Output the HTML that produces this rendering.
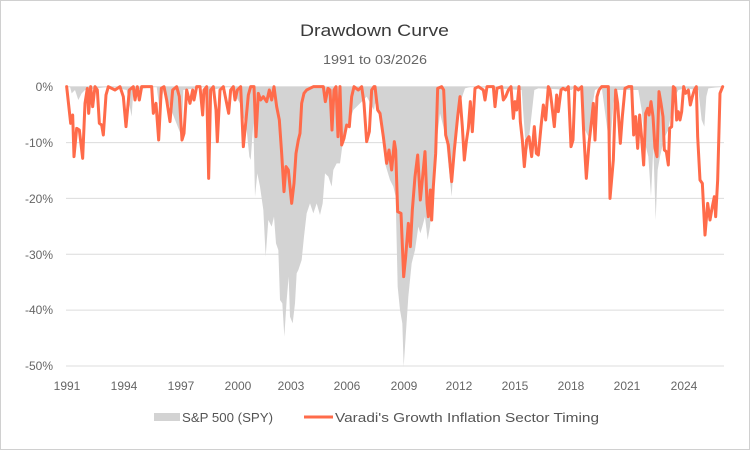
<!DOCTYPE html>
<html><head><meta charset="utf-8"><style>
html,body{margin:0;padding:0;background:#fff}
svg{display:block}
text{font-family:"Liberation Sans",sans-serif}
</style></head><body>
<svg width="750" height="450" viewBox="0 0 750 450" xmlns="http://www.w3.org/2000/svg">
<rect x="0.5" y="0.5" width="749" height="449" fill="#fff" stroke="#d0d0d0"/>
<text x="300" y="36" font-size="17" fill="#3a3a3a" textLength="149" lengthAdjust="spacingAndGlyphs">Drawdown Curve</text>
<text x="323" y="64" font-size="13" fill="#666" textLength="104" lengthAdjust="spacingAndGlyphs">1991 to 03/2026</text>
<g stroke="#dcdcdc" stroke-width="1">
<line x1="66" x2="724" y1="86.7" y2="86.7"/><line x1="66" x2="724" y1="142.6" y2="142.6"/><line x1="66" x2="724" y1="198.4" y2="198.4"/><line x1="66" x2="724" y1="254.3" y2="254.3"/><line x1="66" x2="724" y1="310.1" y2="310.1"/><line x1="66" x2="724" y1="366" y2="366"/>
</g>
<g font-size="12" fill="#666" text-anchor="end">
<text x="53" y="91">0%</text><text x="53" y="147">-10%</text><text x="53" y="203">-20%</text><text x="53" y="259">-30%</text><text x="53" y="314">-40%</text><text x="53" y="370">-50%</text>
</g>
<g font-size="12" fill="#666" text-anchor="middle">
<text x="67" y="390">1991</text><text x="124" y="390">1994</text><text x="181" y="390">1997</text><text x="238" y="390">2000</text><text x="291" y="390">2003</text><text x="347" y="390">2006</text><text x="404" y="390">2009</text><text x="459" y="390">2012</text><text x="515" y="390">2015</text><text x="571" y="390">2018</text><text x="627" y="390">2021</text><text x="684" y="390">2024</text>
</g>
<g transform="translate(0,70) scale(0.333333)">
<polygon fill="#d3d3d3" points="200,50 210,50 215,70 225,60 235,90 245,70 255,60 330,50 380,60 395,140 400,60 470,50 480,130 490,60 545,200 550,60 620,50 626,300 632,60 690,50 720,100 740,180 748,260 752,270 760,160 765,380 772,310 780,350 790,420 797,560 805,450 815,470 822,440 828,520 835,540 840,690 847,700 853,800 860,690 866,620 870,740 878,760 885,700 890,610 895,600 905,570 912,500 920,430 930,400 940,430 950,400 960,435 968,400 975,310 985,320 995,350 1000,300 1010,280 1020,280 1028,220 1040,180 1060,120 1080,100 1100,80 1122,120 1125,100 1135,110 1145,170 1155,280 1170,330 1180,350 1187,380 1193,650 1200,720 1207,760 1211,890 1217,800 1225,680 1235,580 1245,540 1255,470 1261,490 1267,470 1275,440 1283,510 1290,470 1297,390 1305,250 1313,190 1320,130 1330,170 1337,200 1345,280 1355,380 1363,250 1373,160 1383,90 1395,55 1415,50 1565,60 1575,200 1583,240 1593,150 1603,60 1615,55 1715,60 1725,50 1745,60 1755,180 1765,200 1775,120 1785,60 1805,50 1830,240 1840,100 1850,60 1915,60 1925,120 1935,220 1945,260 1953,380 1960,230 1967,450 1973,300 1980,260 1987,230 1995,200 2005,180 2015,120 2025,80 2035,60 2055,55 2095,60 2105,150 2113,170 2119,80 2125,55 2168,50 2168,50 200,50"/>
<polyline fill="none" stroke="#ff6b4a" stroke-width="9" stroke-linejoin="round" stroke-linecap="round" points="200,50 212,160 218,135 222,260 230,175 238,180 248,265 255,100 262,55 266,130 272,50 278,110 285,50 292,60 298,160 305,165 310,195 318,75 325,50 345,60 360,50 370,80 378,170 388,60 400,50 405,90 412,50 418,90 425,50 455,50 460,130 468,100 476,210 484,55 492,50 500,90 510,155 518,60 530,50 538,80 546,210 552,190 560,60 570,100 578,60 582,90 590,50 600,50 608,135 612,60 620,50 626,325 632,60 640,50 648,120 652,215 660,60 670,50 680,100 686,130 692,60 700,50 705,90 712,60 722,50 730,230 738,150 745,75 752,50 762,50 768,200 775,70 782,90 790,80 800,95 808,60 815,90 822,50 830,110 838,150 845,250 852,365 858,290 865,300 875,400 882,340 888,250 895,210 900,190 905,100 912,70 920,60 930,55 940,50 970,50 976,95 984,55 990,60 996,180 1002,60 1008,50 1014,200 1020,50 1025,225 1032,205 1040,165 1048,170 1055,80 1062,50 1075,60 1085,50 1092,100 1100,215 1108,185 1115,60 1122,50 1125,50 1133,120 1140,130 1150,200 1160,280 1167,240 1175,300 1183,215 1187,240 1193,425 1203,430 1211,620 1217,560 1225,460 1231,530 1237,420 1245,320 1253,255 1261,390 1267,330 1275,245 1281,400 1285,440 1291,360 1295,450 1300,350 1307,250 1313,55 1325,50 1331,60 1337,195 1345,225 1355,335 1363,240 1373,140 1380,80 1387,170 1393,270 1399,215 1405,175 1411,95 1417,185 1425,55 1435,50 1450,60 1455,90 1461,50 1480,50 1485,110 1491,55 1505,50 1510,90 1517,80 1525,60 1533,50 1540,145 1545,95 1550,120 1557,50 1561,155 1567,210 1573,290 1580,210 1587,200 1595,260 1603,170 1609,250 1615,255 1623,170 1630,105 1637,150 1645,50 1650,60 1655,100 1663,170 1670,75 1675,125 1683,60 1689,55 1697,60 1705,50 1713,230 1719,210 1725,50 1735,60 1745,50 1751,185 1759,325 1767,220 1775,150 1780,100 1785,210 1791,80 1797,60 1805,50 1825,50 1830,385 1840,270 1847,60 1853,100 1861,220 1867,140 1875,55 1885,50 1895,50 1901,195 1907,140 1913,235 1919,135 1925,205 1931,285 1937,130 1943,115 1947,135 1953,95 1959,140 1965,235 1971,260 1977,65 1983,100 1989,140 1993,240 1999,245 2005,285 2009,175 2015,170 2020,50 2025,55 2030,150 2035,125 2040,150 2045,125 2051,50 2057,70 2065,60 2071,105 2077,80 2083,60 2089,50 2093,200 2100,330 2107,340 2115,495 2123,400 2130,450 2137,410 2143,380 2147,440 2153,330 2160,70 2168,50"/>
</g>
<rect x="154" y="413" width="26" height="8" fill="#d3d3d3"/>
<text x="182" y="422" font-size="13" fill="#555" textLength="91" lengthAdjust="spacingAndGlyphs">S&amp;P 500 (SPY)</text>
<line x1="304" x2="333" y1="417" y2="417" stroke="#ff6b4a" stroke-width="3"/>
<text x="335" y="422" font-size="13" fill="#555" textLength="264" lengthAdjust="spacingAndGlyphs">Varadi's Growth Inflation Sector Timing</text>
</svg>
</body></html>
